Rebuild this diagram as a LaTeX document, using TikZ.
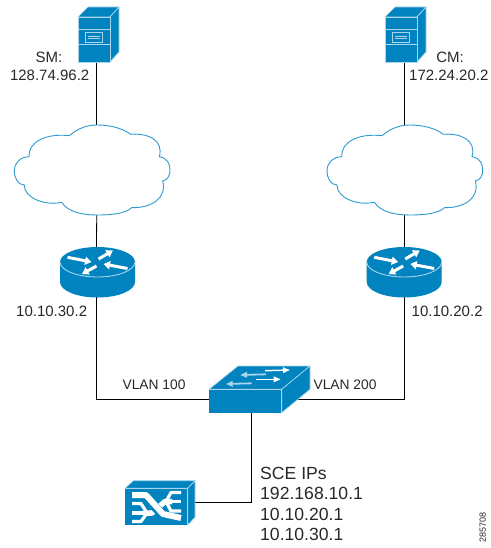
\documentclass[tikz,border=0pt]{standalone}
\usepackage{fontspec}
\setmainfont{Liberation Sans}
\usetikzlibrary{arrows.meta}
\definecolor{ciscoblue}{HTML}{0083BE}
\definecolor{cloudblue}{HTML}{2E9BD0}
\definecolor{labelgrey}{HTML}{2B2728}
\definecolor{rimblue}{HTML}{A8D5EC}
\tikzset{
  anchorbox/.style={inner sep=0pt,outer sep=0pt,minimum width=#1},
  link/.style={draw=black,line width=0.8pt},
  face/.style={fill=ciscoblue,draw=rimblue,line width=0.7pt,line join=round},
  solid face/.style={fill=ciscoblue,draw=none},
  rim/.style={draw=rimblue,line width=0.9pt},
  cloudline/.style={draw=cloudblue,fill=white,line width=0.9pt,line join=miter},
  flow/.style={draw=white,line width=3pt,-{Triangle[length=6.5pt,width=8pt,fill=white]}},
  swflowa/.style={draw=white,line width=1.5pt,-{Triangle[length=7pt,width=5.5pt,fill=white]}},
  swflowb/.style={draw=rimblue,line width=1.8pt,-{Triangle[length=7pt,width=5.5pt,fill=white]}},
  lbl/.style={text=labelgrey,inner sep=0pt,font=\fontsize{15}{18}\selectfont},
  vlanlbl/.style={text=labelgrey,inner sep=0pt,font=\fontsize{13.8}{16}\selectfont},
  biglbl/.style={text=labelgrey,inner sep=0pt,anchor=west,font=\fontsize{17.6}{20}\selectfont},
  fanline/.style={draw=white,line join=round},
}
\newcommand{\servericon}[2]{%
  \begin{scope}[shift={(#1,#2)}]
    \path[face] (0,0) -- (10,-10) -- (41,-10) -- (32,0) -- cycle;
    \path[face] (32,0) -- (41,-10) -- (41,35) -- (32,45) -- cycle;
    \path[face] (0,0) rectangle (32,45);
    \draw[rim] (0,12) -- (32,12) (0,27) -- (32,27);
    \draw[rim] (7,15) rectangle (24,25);
    \draw[rim] (9.5,19) -- (21.5,19) (9.5,21.5) -- (21.5,21.5);
  \end{scope}}
\newcommand{\cloudicon}[2]{%
  \begin{scope}[shift={(#1,#2)}]
    \path[cloudline] (69.3,135.7)
      .. controls (78,128) and (88,125) .. (97,125)
      .. controls (110,125) and (122,128) .. (130.7,134.3)
      .. controls (148,133) and (164,140) .. (159.3,156.7)
      .. controls (168,158) and (170,165) .. (170,170)
      .. controls (170,175) and (168,180) .. (162.7,181)
      .. controls (167,198) and (152,208) .. (131.7,207.7)
      .. controls (125,214) and (110,215) .. (97,215)
      .. controls (82,215) and (68,212) .. (61.7,202.3)
      .. controls (45,206) and (24,198) .. (24.3,185)
      .. controls (18,185) and (14.3,178) .. (14.3,171)
      .. controls (14.3,163) and (20,157) .. (29,156.7)
      .. controls (28,142) and (46,133) .. (69.3,135.7) -- cycle;
  \end{scope}}
\newcommand{\routericon}[1]{%
  \begin{scope}[shift={(#1,0)}]
    \path[solid face] (-37.5,262) -- (-37.5,282) arc[start angle=180,end angle=360,x radius=37.5pt,y radius=15.5pt] -- (37.5,262) -- cycle;
    \path[solid face] (0,262) ellipse[x radius=37.5pt,y radius=15pt];
    \draw[rim] (-37.5,262) arc[start angle=180,end angle=360,x radius=37.5pt,y radius=15pt];
    \draw[flow] (-30,257.3) -- (-6,262);
    \draw[flow] (1,259) -- (15.5,250.5);
    \draw[flow] (30,268.5) -- (6,264);
    \draw[flow] (-1,266) -- (-15.5,274);
  \end{scope}}
\begin{document}
\begin{tikzpicture}[x=1pt,y=-1pt]
\useasboundingbox (0,0) rectangle (490,548);
\fill[white] (0,0) rectangle (490,548);
% anchors
\node[anchorbox=32pt,minimum height=45pt] (sm) at (96.7,39.5) {};
\node[anchorbox=31pt,minimum height=45pt] (cm) at (404.3,39.5) {};
\node[anchorbox=156pt,minimum height=90pt] (cloudl) at (96.7,170) {};
\node[anchorbox=150pt,minimum height=90pt] (cloudr) at (404.3,170) {};
\node[anchorbox=75pt,minimum height=50pt] (routerl) at (96.5,272.3) {};
\node[anchorbox=75pt,minimum height=50pt] (routerr) at (404.3,272.3) {};
\node[anchorbox=85.4pt,minimum height=27.4pt] (switch) at (251.7,399.3) {};
\node[anchorbox=70pt,minimum height=44pt] (sce) at (160,502) {};
% connectors
\draw[link] (sm.south) -- (cloudl.north);
\draw[link] (cm.south) -- (cloudr.north);
\draw[link] (cloudl.south) -- (routerl.north);
\draw[link] (cloudr.south) -- (routerr.north);
\draw[link] (routerl.south) |- (switch.west);
\draw[link] (routerr.south) |- (switch.east);
\draw[link] (switch.south) |- (sce.east);
% servers
\servericon{78}{17}
\servericon{385}{17}
% clouds
\cloudicon{0}{0}
\cloudicon{312.7}{0}
% routers
\routericon{97.5}
\routericon{404.2}
% switch
\path[face] (209,389.3) -- (238,366) -- (310,366) -- (281.7,389.3) -- cycle;
\path[face] (281.7,389.3) -- (310,366) -- (310,389.3) -- (281.7,412.7) -- cycle;
\path[solid face] (209,389.3) rectangle (281.7,412.7);
\draw[rim] (209,389.3) -- (281.7,389.3) -- (281.7,412.7);
\draw[swflowa] (265,370.7) -- (290,370);
\draw[swflowb] (266,374.3) -- (240,375);
\draw[swflowa] (255.7,379.3) -- (280.7,379.3);
\draw[swflowb] (251.7,383.3) -- (225.7,384);
% SCE device
\path[face] (125,488.3) -- (133.3,480.7) -- (195,480.7) -- (187.7,488.3) -- cycle;
\path[face] (187.7,488.3) -- (195,480.7) -- (195,517.3) -- (187.7,525) -- cycle;
\path[solid face] (125,488.3) rectangle (187.7,525);
\draw[rim] (125,488.3) -- (187.7,488.3) -- (187.7,525);
\draw[fanline,line width=3.2pt] (132,521.5) -- (141,521.5) -- (147,513);
\draw[fanline,line width=3.2pt] (132,503.5) -- (141,503.5) -- (147,513);
\draw[fanline,line width=3.2pt] (132,513) -- (147,513);
\draw[fanline,line width=5.5pt] (146,513) -- (152,513) -- (165,501.5) -- (172,501.5);
\draw[fanline,line width=3.2pt] (166,501.5) -- (171,492.5) -- (181,492.5);
\draw[fanline,line width=3.2pt] (166,501.5) -- (181,501.5);
\draw[fanline,line width=3.2pt] (166,501.5) -- (171,511) -- (181,511);
\draw[draw=ciscoblue,line width=9pt] (147,499) -- (163,515);
\draw[fanline,line width=6pt] (132,495) -- (146,495) -- (163,514) -- (181,518);
% labels
\node[lbl,anchor=center] (smname) at (49,57) {SM:};
\node[lbl,anchor=east] (smip) at (89.5,75) {128.74.96.2};
\node[lbl,anchor=center] (cmname) at (450,57) {CM:};
\node[lbl,anchor=west] (cmip) at (409,75) {172.24.20.2};
\node[lbl,anchor=west] (rlip) at (16,311) {10.10.30.2};
\node[lbl,anchor=west] (rrip) at (411.5,311) {10.10.20.2};
\node[vlanlbl,anchor=center] (vl) at (154,385) {VLAN 100};
\node[vlanlbl,anchor=center] (vr) at (345,385) {VLAN 200};
\node[biglbl] (scea) at (260,473) {SCE IPs};
\node[biglbl] (sceb) at (260,493.5) {192.168.10.1};
\node[biglbl] (scec) at (260,514) {10.10.20.1};
\node[biglbl] (sced) at (260,534) {10.10.30.1};
\node[text=labelgrey,inner sep=0pt,rotate=90,font=\fontsize{9}{10}\selectfont] (figid) at (482.7,527) {285708};
\end{tikzpicture}
\end{document}
